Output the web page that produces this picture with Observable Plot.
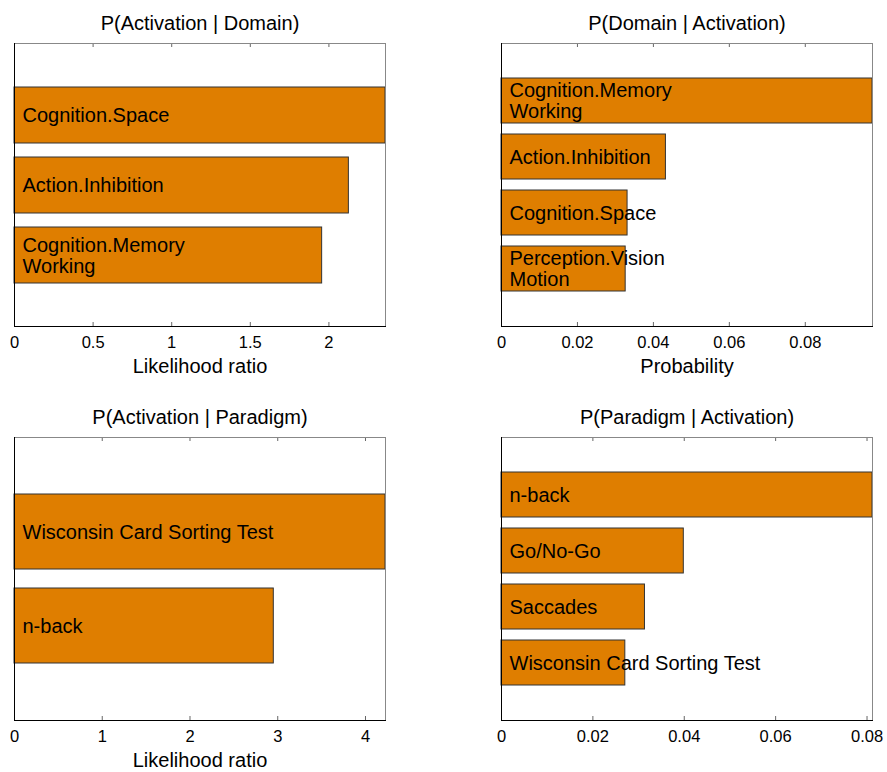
<!DOCTYPE html>
<html>
<head>
<meta charset="utf-8">
<script src="https://cdn.jsdelivr.net/npm/d3@7"></script>
<script src="https://cdn.jsdelivr.net/npm/@observablehq/plot@0.6"></script>
<style>
  html, body { margin: 0; padding: 0; background: #fff; }
  #wrap { position: relative; width: 887px; height: 772px; font-family: "Liberation Sans", Arial, sans-serif; }
  .panel { position: absolute; }
  .panel svg { overflow: visible; }
</style>
</head>
<body>
<div id="wrap"></div>
<script>
// ---- Data ----
const titles = ["P(Activation | Domain)", "P(Domain | Activation)", "P(Activation | Paradigm)", "P(Paradigm | Activation)"];
const xLabels = ["Likelihood ratio", "Probability", "Likelihood ratio", ""];

const domainLRLabels = ["Cognition.Space", "Action.Inhibition", "Cognition.Memory\nWorking"];
const domainLRValues = [2.36, 2.127, 1.957];

const domainProbLabels = ["Cognition.Memory\nWorking", "Action.Inhibition", "Cognition.Space", "Perception.Vision\nMotion"];
const domainProbValues = [0.0977, 0.0433, 0.0332, 0.0327];

const paradigmLRLabels = ["Wisconsin Card Sorting Test", "n-back"];
const paradigmLRValues = [4.228, 2.955];

const paradigmProbLabels = ["n-back", "Go/No-Go", "Saccades", "Wisconsin Card Sorting Test"];
const paradigmProbValues = [0.0812, 0.0399, 0.0314, 0.0271];

const ticksLR1 = [0, 0.5, 1, 1.5, 2];
const ticksProb1 = [0, 0.02, 0.04, 0.06, 0.08];
const ticksLR2 = [0, 1, 2, 3, 4];
const ticksProb2 = [0, 0.02, 0.04, 0.06, 0.08];

const xMax = [2.36, 0.0977, 4.228, 0.0812];

// ---- Drawing ----
const BAR = "#df7e00";
const wrap = document.getElementById("wrap");

function panel(i, labels, values, ticks, pos) {
  const data = labels.map((l, k) => ({label: l, value: values[k]}));
  const frameH = pos.height - pos.mt - pos.mb;
  const tickLen = 4;
  const chart = Plot.plot({
    width: 400,
    height: pos.height,
    marginTop: pos.mt,
    marginBottom: pos.mb,
    marginLeft: 14,
    marginRight: 15,
    style: {fontFamily: "Liberation Sans, Arial, sans-serif", background: "transparent", overflow: "visible"},
    x: {domain: [0, xMax[i]], axis: null},
    y: {domain: labels, type: "band", paddingInner: 0.2, paddingOuter: 0.6, axis: null},
    marks: [
      Plot.tickX(ticks, {x: d => d, insetTop: frameH - tickLen, stroke: "#666"}),
      Plot.tickX(ticks, {x: d => d, insetBottom: frameH - tickLen, stroke: "#666"}),
      Plot.barX(data, {y: "label", x: "value", fill: BAR, stroke: "#333", strokeWidth: 1}),
      Plot.text(data, {y: "label", x: 0, text: "label", dx: 8, textAnchor: "start", fill: "black", fontSize: 20, lineHeight: 1.05}),
      Plot.frame({anchor: "top", stroke: "#888"}),
      Plot.frame({anchor: "right", stroke: "#888"}),
      Plot.frame({anchor: "left", stroke: "#000"}),
      Plot.frame({anchor: "bottom", stroke: "#000"}),
      Plot.axisX({anchor: "bottom", ticks, tickSize: 0, tickPadding: 10, fontSize: 16.5, fill: "black", tickFormat: d => String(d), label: null}),
      Plot.text([titles[i]], {frameAnchor: "top", lineAnchor: "bottom", dy: -14, fontSize: 20, fill: "black"}),
      Plot.text([xLabels[i]], {frameAnchor: "bottom", lineAnchor: "bottom", dy: 46.5, fontSize: 20, fill: "black"})
    ]
  });
  const div = document.createElement("div");
  div.className = "panel";
  div.style.left = pos.left + "px";
  div.style.top = pos.top + "px";
  div.appendChild(chart);
  wrap.appendChild(div);
}

panel(0, domainLRLabels, domainLRValues, ticksLR1, {left: 0, top: 0, height: 390, mt: 43, mb: 64});
panel(1, domainProbLabels, domainProbValues, ticksProb1, {left: 487, top: 0, height: 390, mt: 43, mb: 64});
panel(2, paradigmLRLabels, paradigmLRValues, ticksLR2, {left: 0, top: 390, height: 382, mt: 47, mb: 52});
panel(3, paradigmProbLabels, paradigmProbValues, ticksProb2, {left: 487, top: 390, height: 382, mt: 47, mb: 52});
</script>
</body>
</html>
